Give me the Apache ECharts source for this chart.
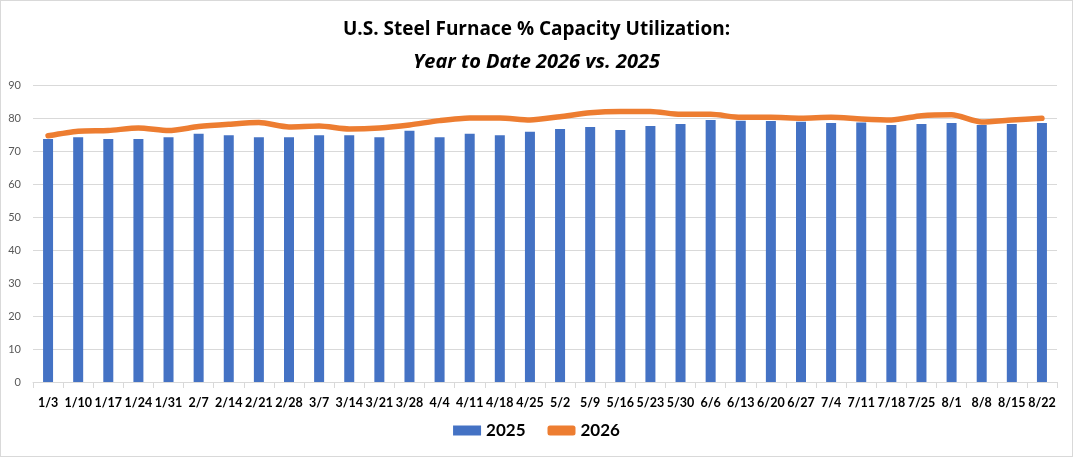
<!DOCTYPE html>
<html>
<head>
<meta charset="utf-8">
<script src="https://cdn.jsdelivr.net/npm/echarts@6/dist/echarts.min.js"></script>
<style>
  html, body { margin: 0; padding: 0; background: #fff; }
  #main { width: 1071px; height: 455px; border: 1px solid #d9d9d9; }
</style>
</head>
<body>
<div id="main"></div>
<script>
var weeks = ['1/3', '1/10', '1/17', '1/24', '1/31', '2/7', '2/14', '2/21', '2/28', '3/7', '3/14', '3/21',
    '3/28', '4/4', '4/11', '4/18', '4/25', '5/2', '5/9', '5/16', '5/23', '5/30', '6/6', '6/13', '6/20',
    '6/27', '7/4', '7/11', '7/18', '7/25', '8/1', '8/8', '8/15', '8/22'];

var util2025 = [73.6, 74.2, 73.6, 73.6, 74.2, 75.2, 74.8, 74.2, 74.2, 74.8, 74.8, 74.2,
    76.1, 74.2, 75.2, 74.8, 75.8, 76.7, 77.3, 76.4, 77.6, 78.2, 79.4, 79.2, 79.1,
    78.9, 78.5, 78.6, 77.9, 78.2, 78.5, 77.9, 78.2, 78.5];

var util2026 = [74.6, 76.0, 76.2, 77.0, 76.2, 77.4, 78.1, 78.6, 77.3, 77.6, 76.7, 77.0,
    77.9, 79.2, 80.0, 80.0, 79.4, 80.4, 81.6, 82.0, 82.0, 81.1, 81.1, 80.2, 80.2,
    79.9, 80.2, 79.7, 79.4, 80.7, 81.0, 78.8, 79.4, 79.9];

var font = 'Lato, "Open Sans", sans-serif';
var titleFont = '"Open Sans", Lato, sans-serif';

var myChart = echarts.init(document.getElementById('main'));
var option = {
    animation: false,
    title: {
        text: 'U.S. Steel Furnace % Capacity Utilization:\n{it|Year to Date 2026 vs. 2025}',
        left: 'center',
        top: 8,
        textStyle: {
            fontFamily: titleFont,
            fontSize: 19,
            fontWeight: 'bold',
            color: '#000',
            lineHeight: 32,
            rich: {
                it: {
                    fontFamily: titleFont,
                    fontSize: 20,
                    fontWeight: 'bold',
                    fontStyle: 'italic',
                    color: '#000',
                    lineHeight: 32
                }
            }
        }
    },
    legend: {
        bottom: 12,
        left: 'center',
        itemGap: 22,
        itemWidth: 28,
        itemHeight: 10,
        textStyle: { fontFamily: font, fontSize: 17, fontWeight: 'bold', color: '#000' },
        data: [
            { name: '2025', icon: 'rect' },
            { name: '2026', icon: 'roundRect', itemStyle: { color: '#ED7D31' } }
        ]
    },
    grid: {
        left: 32,
        right: 15,
        top: 84,
        bottom: 74
    },
    xAxis: {
        type: 'category',
        data: weeks,
        axisLine: { lineStyle: { color: '#d9d9d9' } },
        axisTick: { show: true, length: 6, lineStyle: { color: '#d9d9d9' } },
        axisLabel: { interval: 0, color: '#000', fontFamily: font, fontSize: 12.5, fontWeight: 'bold', margin: 14 }
    },
    yAxis: {
        type: 'value',
        min: 0,
        max: 90,
        interval: 10,
        axisLine: { show: false },
        axisTick: { show: false },
        splitLine: { lineStyle: { color: '#d9d9d9' } },
        axisLabel: { color: '#595959', fontFamily: font, fontSize: 11, margin: 12 }
    },
    series: [
        {
            name: '2025',
            type: 'bar',
            data: util2025,
            barWidth: 10,
            itemStyle: { color: '#4472C4' }
        },
        {
            name: '2026',
            type: 'line',
            data: util2026,
            smooth: 0.25,
            showSymbol: false,
            symbol: 'none',
            lineStyle: { color: '#ED7D31', width: 5.5, cap: 'round' },
            itemStyle: { color: '#ED7D31' }
        }
    ]
};
myChart.setOption(option);
</script>
</body>
</html>
